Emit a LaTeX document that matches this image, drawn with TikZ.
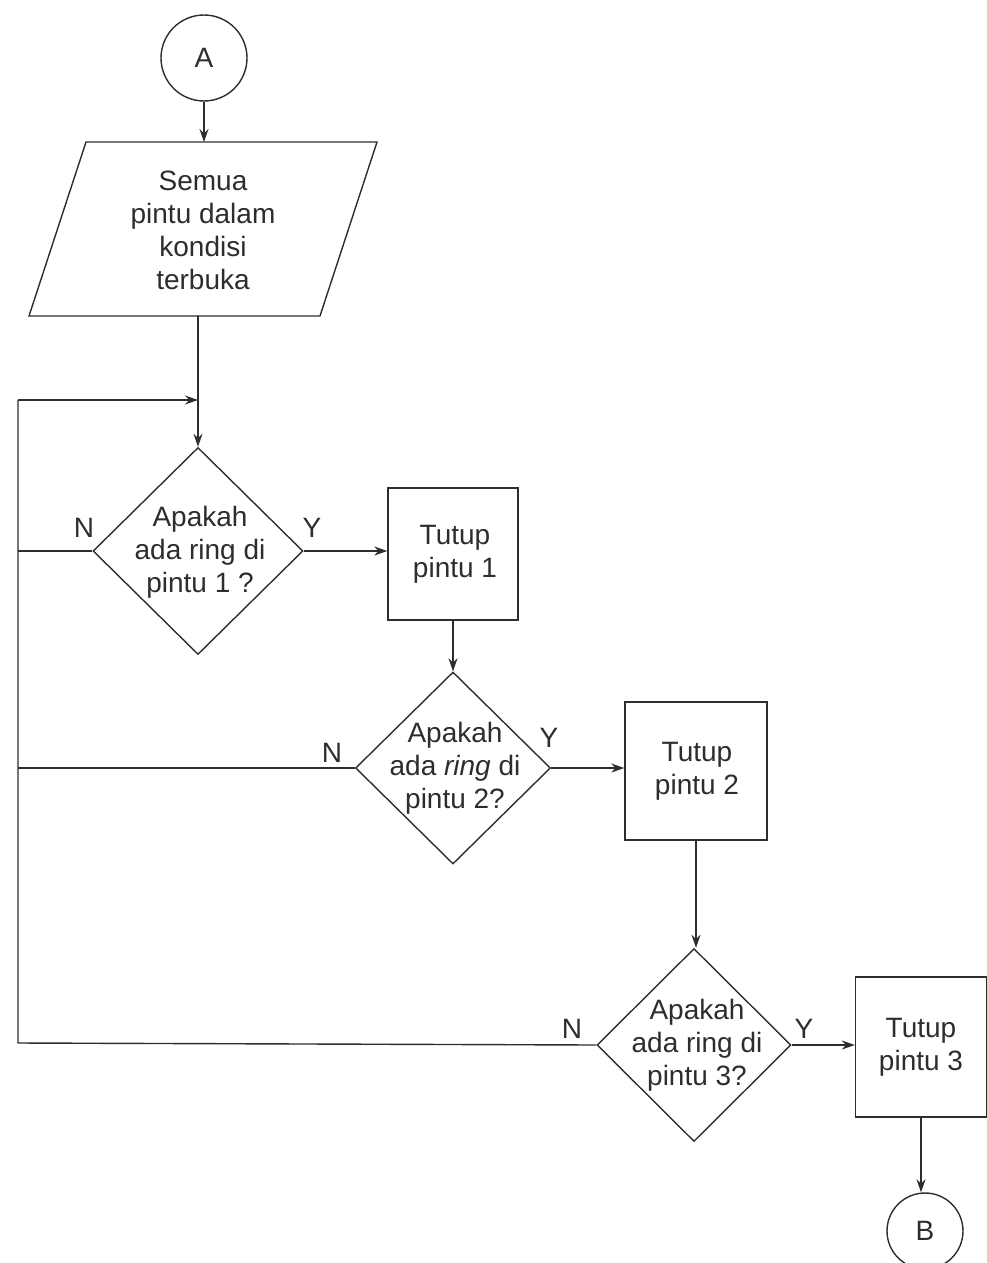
\documentclass[tikz,border=0pt]{standalone}
\usepackage{fontspec}
\setmainfont{Liberation Sans}
\usetikzlibrary{shapes.geometric,arrows.meta}
\definecolor{ink}{RGB}{45,45,45}
\begin{document}
\begin{tikzpicture}[x=1pt,y=-1pt,
  every node/.style={font=\fontsize{28}{33}\selectfont, text=ink},
  line/.style={draw=ink, line width=1.4pt},
  arr/.style={line, -{Stealth[length=13pt,width=9pt]}},
  conn/.style={circle, draw=ink, line width=1.4pt, inner sep=0pt},
  dec/.style={diamond, draw=ink, line width=1.4pt, inner sep=0pt},
  proc/.style={rectangle, draw=ink, line width=1.4pt, inner sep=0pt},
  txt/.style={align=center, inner sep=0pt},
  lab/.style={inner sep=0pt}]
\useasboundingbox (0,0) rectangle (987,1263);

% connector A
\node[conn, minimum size=86pt] (A) at (204,58) {A};

% parallelogram (input)
\coordinate (p1) at (86,142);
\coordinate (p2) at (377,142);
\coordinate (p3) at (320,316);
\coordinate (p4) at (29,316);
\draw[line] (p1) -- (p2) -- (p3) -- (p4) -- cycle;
\node[txt] (par) at (203,230) {Semua\\pintu dalam\\kondisi\\terbuka};
\coordinate (partop) at (204,142);
\coordinate (parbot) at (198,316);

% decisions
\node[dec, minimum width=210pt, minimum height=207pt] (d1) at (198,551) {};
\node[txt] (d1t) at (200,552) {Apakah\\ada ring di\\pintu 1 ?};
\node[dec, minimum width=195pt, minimum height=192pt] (d2) at (453,768) {};
\node[txt] (d2t) at (455,768) {Apakah\\ada \textit{ring} di\\pintu 2?};
\node[dec, minimum width=194pt, minimum height=193pt] (d3) at (694,1045) {};
\node[txt] (d3t) at (697,1045) {Apakah\\ada ring di\\pintu 3?};

% processes
\node[proc, minimum width=130pt, minimum height=132pt] (b1) at (453,554) {};
\node[txt] (b1t) at (455,554) {Tutup\\pintu 1};
\node[proc, minimum width=142pt, minimum height=138pt] (b2) at (696,771) {};
\node[txt] (b2t) at (697,771) {Tutup\\pintu 2};
\node[proc, minimum width=131pt, minimum height=140pt] (b3) at (921,1047) {};
\node[txt] (b3t) at (921,1047) {Tutup\\pintu 3};

% connector B
\node[conn, minimum size=76pt] (B) at (925,1231) {B};

% labels
\node[lab] (n1) at (84,528) {N};
\node[lab] (y1) at (312,528) {Y};
\node[lab] (n2) at (332,753) {N};
\node[lab] (y2) at (549,738) {Y};
\node[lab] (n3) at (572,1029) {N};
\node[lab] (y3) at (804,1029) {Y};

% flow
\draw[arr] (A) -- (partop);
\draw[arr] (parbot) -- (d1.north);
\coordinate (join) at (198,400);
\coordinate (lt) at (18,400);
\coordinate (lb) at (18,1043);
\draw[line] (d3.west) -- (lb) -- (lt);
\draw[arr] (lt) -- (join);
\draw[line] (d1.west) -- (18,551);
\draw[line] (d2.west) -- (18,768);

\draw[arr] (d1.east) -- (b1.west |- d1.east);
\draw[arr] (b1.south) -- (d2.north);
\draw[arr] (d2.east) -- (b2.west |- d2.east);
\draw[arr] (b2.south) -- (d3.north -| b2.south);
\draw[arr] (d3.east) -- (b3.west |- d3.east);
\draw[arr] (b3.south) -- (B.north -| b3.south);
\end{tikzpicture}
\end{document}
